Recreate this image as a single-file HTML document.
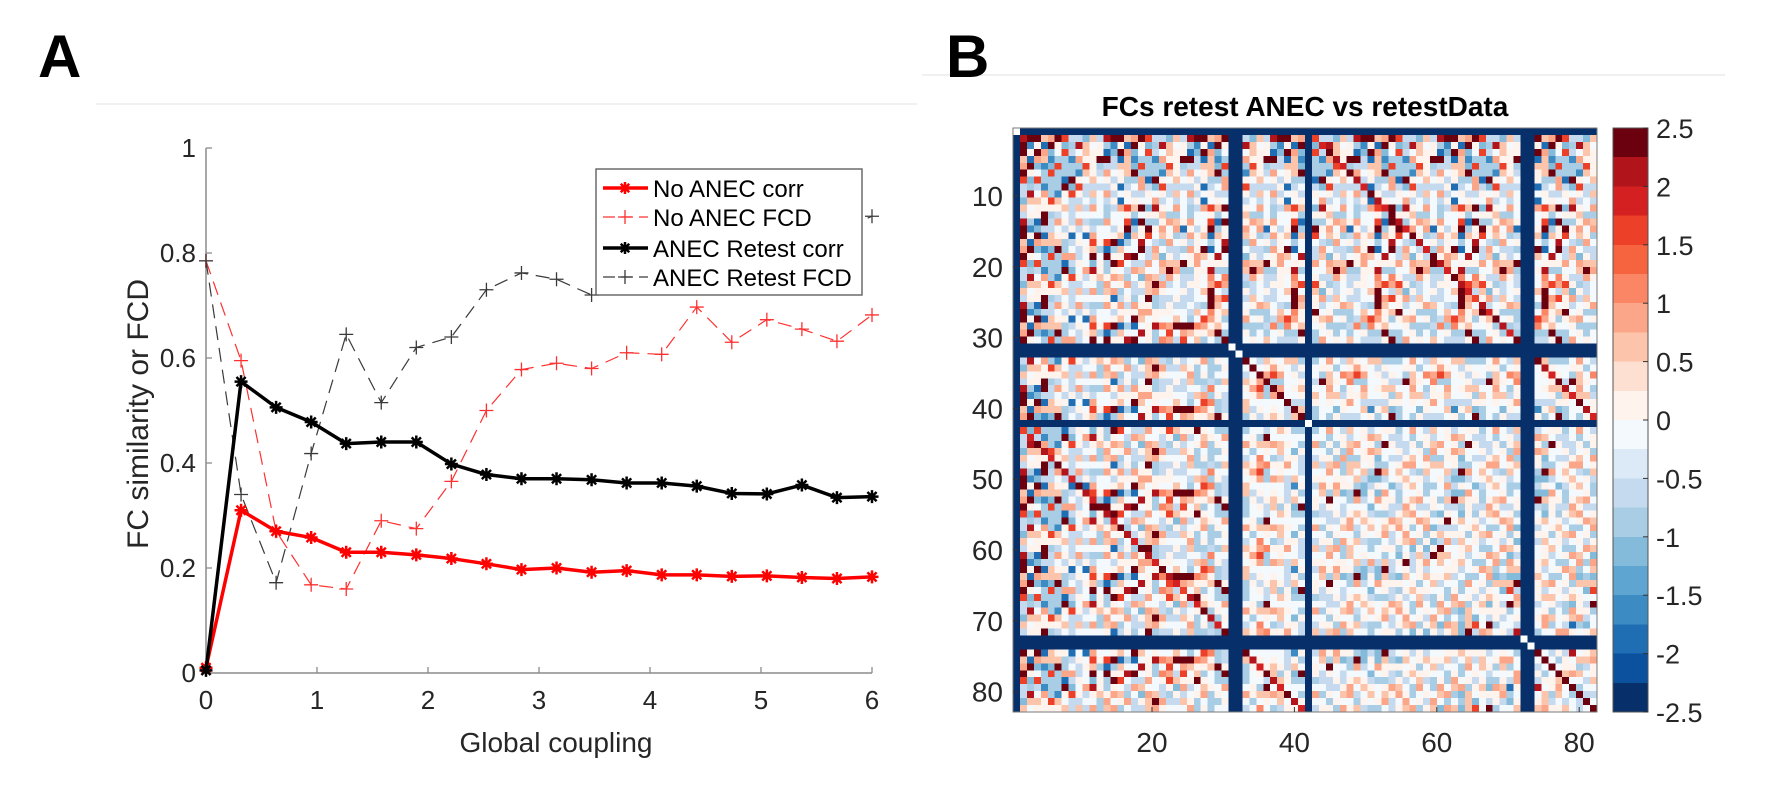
<!DOCTYPE html>
<html><head><meta charset="utf-8">
<style>
html,body{margin:0;padding:0;background:#fff;}
svg{display:block;font-family:"Liberation Sans",sans-serif;}
</style></head>
<body>
<svg id="fig" width="1780" height="812" viewBox="0 0 1780 812" xmlns="http://www.w3.org/2000/svg">
  <line x1="96" y1="104" x2="917" y2="104" stroke="#ececec" stroke-width="1.5"/>
  <line x1="922" y1="75" x2="1725" y2="75" stroke="#ececec" stroke-width="1.5"/>
  <text x="38" y="77" font-size="60" font-weight="bold">A</text>
  <text x="946" y="77" font-size="60" font-weight="bold">B</text>
  <g id="lineChart"></g>
  <g id="heatmap"></g>
</svg>
<script>
// ---------- Panel A data ----------
const couplingX = [0,0.3158,0.6316,0.9474,1.2632,1.5789,1.8947,2.2105,2.5263,2.8421,3.1579,3.4737,3.7895,4.1053,4.4211,4.7368,5.0526,5.3684,5.6842,6];
const noAnecCorr = [0.01,0.31,0.27,0.258,0.23,0.23,0.225,0.218,0.208,0.197,0.2,0.192,0.195,0.187,0.187,0.184,0.185,0.182,0.18,0.183];
const noAnecFCD = [0.785,0.595,0.27,0.168,0.16,0.29,0.275,0.365,0.5,0.578,0.59,0.58,0.61,0.607,0.697,0.63,0.673,0.655,0.632,0.682];
const retestCorr = [0.005,0.555,0.506,0.478,0.437,0.44,0.44,0.398,0.378,0.37,0.37,0.368,0.362,0.362,0.356,0.342,0.341,0.358,0.334,0.336];
const retestFCD = [0.785,0.34,0.172,0.418,0.645,0.515,0.62,0.64,0.73,0.762,0.75,0.72,0.76,0.79,0.8,0.82,0.81,0.83,0.84,0.87];
const xTicks = [0,1,2,3,4,5,6];
const yTicks = [0,0.2,0.4,0.6,0.8,1];
const yTickLabels = ["0","0.2","0.4","0.6","0.8","1"];

// ---------- Panel B data ----------
const levelChars = "ABCDEFGHIJklmnopqrst"; // A=-2.375 ... t=+2.375
const missingNodes = [0,31,32,42,73,74];
const homotopicOffset = 42;
const matrixRows = [
"JkGHnJqmEIHkrlJoIFmkHtJnGIlqJHEkmrkIoJlHkFJnkrmHGkoJlEJIHkmGJrkJlIHFkmIoJkHlqIkrJmkI",
"kJnIFoHJlkqJGkEmJtkIJnlHrJoIGkJlHqkEIkmJHGkIlrkHIFmkoIlkHGkIrmlkEJIkqlkIHGkmJIoHlrkI",
"IkEmtHkrIlnGJHqIkJlmFJrHonJkIlJGkmEtIkJHlrGIkmHFkIlrkHIGmkolIkHEkmIJlqHIGkJmlIrJHEk",
"HlkGIoqJHkmIrlkrEHIkoJlGkFmnIkrHlkEIkmHJroIlGkHIFmkJIlqHJkoJmlkEJIkGlkrHJkmGIkHlEkI",
"kIGlHkrnqIkEtHlkJImrJHolkGIHkmJlIEJHmrJIlHkGIkmFHlkJIrHJmlkGIHkJlmoIFHkJlIkmEHkJIlk",
"JoIkGHlnkrIrmJkHElofJqIJHkmlGIknHJrIlmEkHIJlrmJIHkGlIkmJHoJlIkFmHkJIlrJHmIkGlkHJIEk",
"IkqJlHkEnoIkrHmtkJIlGkJoImkrlHkIJmEJHlIkJmoHJIlkGmIkHrlkJIkmHElIkJrHmJIlkGHkIJmlkFI",
"kHJlnIkJtHorkIlmGJkqIJlkHEnIkmJlHrJIlmkGHIkJlmEIkHJlIrmJHkJlIkGmHkoIlkEHmIkJlrHJIkG",
"JIkoHlJrmnIGqkHJlIktEHkmIlrkHonIJkGlmHkJIlrJmEIkJlkJIHkmGIkJlIHoJkmIEkHlrIkJmkIHGkl",
"lkJHqIkrloHkGImnkJHtlIkEmHkJIloJrHmIGkqlJIkHEmlkJIHrJlmkIGHkJlIkmEHkJIlrJHmIkJlkFJI",
"IJmkHlrqkIoJHknlJGktHJlImkEoHkJIlmrJHIkGlmJIkHJlIkmEHkrlIkJmHkGIlkJHmIokJlkHFIkJlmk",
"kHlrIqnkJHoIkmGlkHtJIlkqJHmIrJlnHJkIlmEkHIJlkmrIHkGlIkmJHkJlIoJmHFJIlkJHmIkrlkHJIkG",
"JkIoHrlmkqIJtHklJInmkGHIlokJqHIkmrlkJHIkmGlHkJIkmHJlkEIkHJmlrJIHkJlmkIGHkJlIkmJHrJI",
"IlkrHnqJkoIHkJmtlJkIHqlrkmIoJHkGlnIkJmHkEIlkJHmIkJrkHJIkGlmkJIHkJlmoIJHkJlEkmJHkJrk",
"kJHlIonrkqHImJktlHJIkmnrlqIkJHoIkGlmHkJIlkEmHIkJlkrIHkmJIkJlIGJkmIJkHlrIkJmkIHFklJk",
"JIlkHqJmnkoIrHtlkJIqmkHrlnIkJoHkEIlmkJHIkJlmrIkHJlGkmJHkJlIkrmHkJIlkJHmIkEkHJIkJlmr",
"HkrloIqkJnHmIJtklHroIkqmJlnHkrIkJlmGkJIlkJmHIkrlkJIHkmJIkElIHJkmIrkHlJIkJmkIHGklJkI",
"kIJqlHonkrmIHtJkIlqJHnkmorIlHkJIkmEHlIkJmkrJIlkGmIkHJlkrIkmHJlIkJkHmJIlkrHkIJmlEJIk",
"JlHkIqnorkmIJtHlkqrIonkJmHlIkrHkmGlIkJHmkEIlHkJIkmrHlkJIkHJmlkGIHkJlmkIJHrJlIkmJHkJ",
"IkJoHlqnkrImtJHkloIrqkmHJnlIkJoHkJIlmrJHIkJlmGIkHJlIkmJHkrlIkJmEkJIlkJHmIrJlkHJIkJl",
"kHlJqoInkJmHtIrklqHJonrkmJlHkJIkJlmHkGIlkJmHIkrlkJIHkmJIkJlIHJkmIrkHlJEkJmkIHJklJkI",
"JIqklHonrkmItHJlkIqoJnkHmrlIkJHkmJlIkGHmkJIlHkrIkmJHlkJIkHJmlkEIHkJlmkIrHkJlIkmJHkJ",
"lkHJoqInkrmtHIJlkoqJInrHmlJIkJHoIkGlmHkJIlkrmHIkJlkJIHkmEIkJlIHJkmIrkHlJIkJmkIHJklJ",
"JoIkqHlnJkmItrHkloqIJnkHmJlIkrHkmJlIkJHmkGIlHkJIkmrHlkJIkHJmlkJIHrJlmkIJEkJlIkmJHkJ",
"IkJlqoHnkJmtIJHlrqoJInkmHJlIkJoHrJIlmkJHIkJlmJIkHGlIkmJHkJlIrJmHkJIlkEHmIkJlkHJIkJl",
"kqJHoIlnkJtmHIJkloqrIHnkmJlIkJHkmJlrkJHmkJIlHkJIGmJHlkJIkHJmlkrIHkJlmkIJHkJlIEmJHkJ",
"tJIkqHonlrkmtIHJlkoqJInHkmrlIkJoHkJIlmkJHIkrlmJIkHJlIkmGHkJlIkJmHrJIlkJHmIkJlkHJIEJ",
"JkoqIHlntJkmIHJqlkoJIntkHmJlIrJHkmJlIkJHmkJIlHkJIkmrHlkJIkHJmlkJIHkJlGkIJHkrlIkmJHk",
"IlJkqoHnkJtmIJHlkqoJInkmHJlIkJoHkrIlmkJHIkJlmJIkHJlIkmJHkJlIkJmHkGIlkJHmIkJlrHJIkJl",
"kJtHoqIlnkJmIHJtlkoqJInkHmJlIkJHkmJlIkrHmkJIlHkJIkmJHlkGIkHJmlkJIHkJlmkIJHkJlIkmJHk",
"JIkoqHlnkJtmIJHlkqoJInkmHJlIkJoHkJIlmkJHIkJlmJIkrJlIkmJHkJlIkJmHkJIlkJHmIkJlkHJIkJl",
"JkIHlkmJIlkHJmIkJlHmkJIlHkmJqtkJlIkHJmkIJlHkJmIkqJlkHIJmkJlIkHJmqkJIlHkJmIktJlkHqtk",
"IJlkHmJkIlHJkmIlJkHmIkJlHkmJItqkIJlHkmJIlkHJmkIlqJHkIJmlkJIHkJlmkIJHkJlIkmJHktJIqtl",
"kJlIHkmJIlkHJkIlmJkHIlkJmIkHlJkqIJsklHJIkmJlHkJIkmHJlkJIkHJmlkJIHkJlmkIJHkJlIkmJsqk",
"JIlkHmJkIlnJHkIJlmkJHIlkJmIkHlJqkJItlHkJIlmkJHIkJlmJIkHJlIkmJHkJlIkJmHkJIlkJHmItqkJ",
"lkJHIkmJlIkHJlnkJIlHkmJlIkJHoIkqJlsmHkJIlkJmHIkJlkJIHkmJIkJlIHJkmIJkHlJIkJmkIHtsqkI",
"IkJlHmkJIlkJHmnlkJIHklmJnoqJlIkHJqkJslHkIJlmkJHIkJlmJIkHJlIkmJHkJlIkJmHkJIlkJHkqtkJ",
"JlkHJImkJlIkHJnlkJImHkqtolJkHIlJkmJlqIkJHmkJIlHkJIkmJHlkJIkHJmlkJIHkJlmkIJHkJIkmqtl",
"kIJHlkmJIlkHJmIklJnHkJlIkmJHIlkJqmJlIkJsHkJIlmkJHIkJlmJIkHJlIkmJHkJlIkJmHkJIlkJlIkt",
"HJlkIJmkHlJIkmJlkHIJnlkJmIkHJlIkJmHkJIqkJtlkJHmIkJlkHJIkJlmkJIHkJlmkIJHkJlIkmJHkJIk",
"kHGJlIFkJmGHIkEJlFHkImGJkHlIFkJmGIHkJlFIkGtJHmIFkJlGHkIJmFkGIlHJkFImGkJlHIkFJmGkIlH",
"JkIGHlkmIlHJkmGlJkHmIkJlHkmJItqkIJlHkmJIlkHJmkIlqJHkIJmlkJIHkJlmkIJHkJlIkmJHktJIqtl",
"JkIGHlkmIlHJkmGlJkHmIkJlHkmJItqkIJlHkmJIlkHJmkIlqJHkIJmlkJIHkJlmkIJHkJlIkmJHktJIqtl",
"tJIkHlGJkIHlkJmIGJkHlIJkmHIGJlkJIHkmJlIkJHkmJlIkJHmkJIlHkJIkmJHlkJIkHJmlkJIHkJlmkIJH",
"IkrJHGIkJlmHkIJGHkIlJmHkIJlHkGIJkmJlIkJHmkJIlHkJIkmJHlkJIkHJmlkJIHkJlmkIJHkJlIkmJHkJ",
"JHtkIGHJlkmIHGJkIlHJmkGIJlHkJIkmJlIkJHmkJIlHkJIkmJHlkJIkHJmlkJIHkJlmkIJHkJlIkmJHkJIk",
"kIJHrJGkIHlmJkGIHJlkmIGHJkIlmJkHIJlkmJIHkJlIkmJHkJlIkJmHkJIlkJHmIkJlkHJIkJlmkJIHkJlm",
"IGJkHtIkJGlHmkJIGHlkJmIkGHJlIkJmHkJIlkJmHIkJlkJIHkmJIkJlIHJkmIJkHlJIkJmkIHJklJkIJHlk",
"JkIGHJrkIlGHJmkIHGJlkmJIHkGlJkIHmJlIkJHmkJIlHkJIkmJHlkJIkHJmlkJIHkJlmkIJHkJlIkmJHkJI",
"HIkJGHktIJlGHkmJIGHlkJmIkHGJlIkJmHkJIlkJmHIkJlkJIHkmJIkJlIHJkmIJkHlJIkJmkIHJklJkIJHl",
"kJHGIkJlrHGIJkmlHIGJkHmlJIkHGJlkJIHkmJlIkJHmkJIlHkJIkmJHlkJIkHJmlkJIHkJlmkIJHkJlIkmJ",
"IHGkJlIkJtGHIkJmlGHIJkHmlJIGkJHlkJIHkmJlIkJHmkJIlHkJIkmJHlkJIkHJmlkJIHkJlmkIJHkJlIkm",
"JkIHGlkJIGrHkJmIGlHkJIHmkGJIlkJHIkmJlHkJIkmHJlkJIkHJmlkJIHkJlmkIJHkJlIkmJHkJIlkJHmIk",
"GHkJIlGkJIHltkGJmIHlkJGImHkJlIkJHkmJlIkJHmkJIlHkJIkmJHlkJIkHJmlkJIHkJlmkIJHkJlIkmJHk",
"kJGIHkJlIGHkrJmIGHlkJIHmGkJlIkJHkmJlIkJHmkJIlHkJIkmJHlkJIkHJmlkJIHkJlmkIJHkJlIkmJHkJ",
"IkHJGlkJIHGkJtmIHGJlkIHmkGJlIkJHkmJlIkJHmkJIlHkJIkmJHlkJIkHJmlkJIHkJlmkIJHkJlIkmJHkJ",
"JGIkHlJkGIHlkJrmIGHJlkImHGkJlIkJHkmJlIkJHmkJIlHkJIkmJHlkJIkHJmlkJIHkJlmkIJHkJlIkmJHk",
"HkJGIlkJHGIkmJlrHIGkJlmHIGJklIkJHkmJlIkJHmkJIlHkJIkmJHlkJIkHJmlkJIHkJlmkIJHkJlIkmJHk",
"kIGJHlkIGJHkmlJItGHIkJlmHGIkJlIkJHkmJlIkJHmkJIlHkJIkmJHlkJIkHJmlkJIHkJlmkIJHkJlIkmJH",
"JHkGIJlkHGIJmkJlIrGHkJlmIHGkJlIkJHkmJlIkJHmkJIlHkJIkmJHlkJIkHJmlkJIHkJlmkIJHkJlIkmJH",
"IGkJHlIkGJHmkIJlHkJtGIHkmlJGkJlIkJHkmJlIkJHmkJIlHkJIkmJHlkJIkHJmlkJIHkJlmkIJHkJlIkmJ",
"kJHGIlkJGHImkJlIHGkJrtlHmIGkJlIkJHkmJlIkJHmkJIlHkJIkmJHlkJIkHJmlkJIHkJlmkIJHkJlIkmJH",
"JGIkHlJkIGHmkJlIGHkJIltrmHGkJlIkJHkmJlIkJHmkJIlHkJIkmJHlkJIkHJmlkJIHkJlmkIJHkJlIkmJH",
"HkJIGlkJHIGmkJlHIGkJIlmHtGkJlIkJHkmJlIkJHmkJIlHkJIkmJHlkJIkHJmlkJIHkJlmkIJHkJlIkmJHk",
"kIJGHlkIJGHmkJlIHGkJlImHGtkJlIkJHkmJlIkJHmkJIlHkJIkmJHlkJIkHJmlkJIHkJlmkIJHkJlIkmJHk",
"JHGIkJlHGIkmJlIkHGJklmIHGkttJlIkJHkmJlIkJHmkJIlHkJIkmJHlkJIkHJmlkJIHkJlmkIJHkJlIkmJH",
"IGkJHlIGkJHmlJkIGHkJlmoonnrtJlIkJHkmJlIkJHmkJIlHkJIkmJHlkJIkHJmlkJIHkJlmkIJHkJlIkmJH",
"qqHJGlkIGJHmkJlIHGkJlmonkmJtkIJHkmJlIkJHmkJIlHkJIkmJHlkJIkHJmlkJIHkJlmkIJHkJlIkmJHkJ",
"JHGIkJlHGIkmJlIkHGJklmIHGkJlItkJHkmJlIkJHmkJIlHkJIkmJHlkJIkHJmlkJIHkJlmkIJHkJlIkmJHk",
"kIGJHlkIGJHmkJlIHGkJlImHGkJlIktJHkmJlIkJHmkJIlHkJIkmJHlkJIkHJmlkJIHkJlmkIJHkJlIkmJHk",
"JkIGHlJkIGHmkJlIGHkJlmIHGkJlIkJrHkmJlIkJHmkJIlHkJIkmJHlkJIkHJmlkJIHkJlmkIJHkJlIkmJHk",
"IkGJlHkFmJIlGkHJmEkIlJGkHmJIlFkGJHmlkIJGkHlmJIkFGJlHkIJmGkHIlJkFmGJIlkHJGmIkrJlkHGIk",
"kJlIHkmJIlkHJmIkJlHmkJIlHkmJqtkJlIkHJmkIJlHkJmIkqJlkHIJmkJlIkHJmqkJIlHkJmIktJlkHqtk",
"JlIkHmJkIlHJkmIlJkHmIkJlHkmJItqkIJlHkmJIlkHJmkIlqJHkIJmlkJIHkJlmkIJHkJlIkmJHktJIqtl",
"IkJlHmkJIlHkJmlIkJHmkJIlHkJmtqkJIlHkJmkIJlHkqJIkmHJlkJIkHJmlkJIHkJlmkIJHkJlIkmJHtkq",
"kJlIHkmJIlkHJmIkJlHmkJIlHkJmkqtJIlHkJmIkJlHkJmIqkJlkHIJmkJlIkHJmkqJIlHkJmIktJlkqHtk",
"JIlkHmJkIlHJkmIlJkHmIkJlHkJmIkqtJlHkmJIlkHJmkIlJHqkIJmlkJIHkJlmkIJHkJlIkmJqkJItlkqJ",
"lkJHIkmJlIkHJmlkJIHkmJlIkJHmkJqlItHkJIlmkJHIkJlmJIkqHJlIkmJHkJlIkJmHkJIlqkJHmtkJlkq",
"IkJlHmkJIlkJHmlkJIHkmJlIkJHmkJIlkqtJIlmkJHIkJlmJIkHqJlIkmJHkJlIkJmHkJIlkJHqmIkJtlkq",
"JlkHJImkJlIkHJmlkJIHkmJlIkJHmkJIlkJqtIlmkJHIkJlmJIkHJqlIkmJHkJlIkJmHkJIlkJHmIkqJlkt",
"kIJHlkmJIlkHJmIklJIHkmJlIkJHmkJIlkJHqtlmkJHIkJlmJIkHJlqIkmJHkJlIkJmHkJIlkJHmIkJqlkt",
"HJlkIJmkHlJIkmJlkHIJmlkJmIkHJlIkJmHkJqtkJlkJHmIkJlkHJIkqJlmkJIHkJlmkIJHkJlIkmJHkJIt"
];
const cbarTicks = [2.5,2,1.5,1,0.5,0,-0.5,-1,-1.5,-2,-2.5];
const cbarLabels = ["2.5","2","1.5","1","0.5","0","-0.5","-1","-1.5","-2","-2.5"];
const matTicks = [10,20,30,40,50,60,70,80];
const matXTicks = [20,40,60,80];

const NS = "http://www.w3.org/2000/svg";
function mk(tag, attrs, parent){
  const e = document.createElementNS(NS, tag);
  for (const k in attrs) e.setAttribute(k, attrs[k]);
  parent.appendChild(e);
  return e;
}

// ---------- Panel A ----------
(function(){
  const g = document.getElementById('lineChart');
  const X0 = 206, X1 = 872, Y0 = 673, Y1 = 148;
  const sx = v => X0 + (v - 0) / 6 * (X1 - X0);
  const sy = v => Y0 - v * (Y0 - Y1);
  const ax = mk('g', {}, g);
  
  
  const yl = mk('line', {x1:X0, y1:Y1, x2:X0, y2:Y0, stroke:'#8c8c8c', 'stroke-width':1.5}, ax);
  
  
  const xl = mk('line', {x1:X0, y1:Y0, x2:X1, y2:Y0, stroke:'#8c8c8c', 'stroke-width':1.5}, ax);
  
  
  xTicks.forEach(t => {
    const x = sx(t);
    mk('line', {x1:x, y1:Y0, x2:x, y2:Y0-6, stroke:'#8c8c8c', 'stroke-width':1.3}, ax);
    const tx = mk('text', {x:x, y:709, 'font-size':26, fill:'#262626', 'text-anchor':'middle'}, ax);
    tx.textContent = String(t);
    
    
  });
  yTicks.forEach((t, i) => {
    const y = sy(t);
    mk('line', {x1:X0, y1:y, x2:X0+6, y2:y, stroke:'#8c8c8c', 'stroke-width':1.3}, ax);
    const tx = mk('text', {x:196, y:y+9, 'font-size':26, fill:'#262626', 'text-anchor':'end'}, ax);
    tx.textContent = yTickLabels[i];
    
    
  });
  const yt = mk('text', {x:0, y:0, 'font-size':30, fill:'#262626', 'text-anchor':'middle', transform:'translate(148,414) rotate(-90)'}, ax);
  yt.textContent = 'FC similarity or FCD';
  
  
  const xt = mk('text', {x:556, y:752, 'font-size':28, fill:'#262626', 'text-anchor':'middle'}, ax);
  xt.textContent = 'Global coupling';
  
  

  function star(parent, x, y, color, r){
    let d = '';
    for (let k = 0; k < 4; k++){
      const a = k * Math.PI / 4;
      d += 'M' + (x - r*Math.cos(a)) + ' ' + (y - r*Math.sin(a)) + 'L' + (x + r*Math.cos(a)) + ' ' + (y + r*Math.sin(a));
    }
    mk('path', {d:d, stroke:color, 'stroke-width':2.5, fill:'none'}, parent);
  }
  function plus(parent, x, y, color, r){
    mk('path', {d:'M'+(x-r)+' '+y+'L'+(x+r)+' '+y+'M'+x+' '+(y-r)+'L'+x+' '+(y+r), stroke:color, 'stroke-width':1.3, fill:'none'}, parent);
  }
  function series(vals, color, width, dash, marker, name){
    const s = mk('g', {}, g);
    
    
    const pts = vals.map((v, i) => sx(couplingX[i]) + ',' + sy(v)).join(' ');
    const attrs = {points:pts, fill:'none', stroke:color, 'stroke-width':width, 'stroke-linejoin':'round'};
    if (dash) attrs['stroke-dasharray'] = dash;
    mk('polyline', attrs, s);
    vals.forEach((v, i) => marker(s, sx(couplingX[i]), sy(v), color, marker === star ? 6.5 : 7));
  }
  series(noAnecFCD, '#ff3030', 1.2, '14,8', plus, 'series-no-anec-fcd');
  series(retestFCD, '#3a3a3a', 1.2, '14,8', plus, 'series-anec-retest-fcd');
  series(noAnecCorr, '#ff0000', 3.5, null, star, 'series-no-anec-corr');
  series(retestCorr, '#000000', 3.5, null, star, 'series-anec-retest-corr');

  const lg = mk('g', {}, g);
  
  
  mk('rect', {x:596, y:169, width:266, height:126, fill:'#fff', stroke:'#555', 'stroke-width':1.3}, lg);
  const entries = [
    ['No ANEC corr', '#ff0000', 3.5, null, star],
    ['No ANEC FCD', '#ff3030', 1.2, '14,8', plus],
    ['ANEC Retest corr', '#000000', 3.5, null, star],
    ['ANEC Retest FCD', '#3a3a3a', 1.2, '14,8', plus]
  ];
  const rowY = [188, 217, 248, 277];
  entries.forEach((e, i) => {
    const eg = mk('g', {}, lg);
    
    
    const la = {x1:603, y1:rowY[i], x2:648, y2:rowY[i], stroke:e[1], 'stroke-width':e[2]};
    if (e[3]) la['stroke-dasharray'] = '12,6';
    mk('line', la, eg);
    e[4](eg, 625, rowY[i], e[1], e[4] === star ? 6 : 7);
    const t = mk('text', {x:653, y:rowY[i]+9, 'font-size':24, fill:'#000'}, eg);
    t.textContent = e[0];
  });
})();

// ---------- Panel B ----------
(function(){
  const g = document.getElementById('heatmap');
  const N = 84, L = 1013, T = 128, S = 584 / 84;
  const reds = ['#fff3ee','#fde0d2','#fcc5ab','#fca689','#fb8665','#f6633f','#ec4029','#d42020','#b1141b','#6b000f'];
  const blues = ['#f4f9fe','#dce9f6','#c5daef','#a8cde4','#84bbdb','#5ea5d2','#3c8bc3','#1f6db2','#0b519d','#07306b'];
  const displayGain = 1.35;
  function colorOf(v){
    const idx = Math.min(9, Math.floor(Math.abs(v) / 0.25));
    return v >= 0 ? reds[idx] : blues[idx];
  }
  function valueAt(i, j){
    const a = Math.min(i, j), b = Math.max(i, j);
    const row = (matrixRows[a] || '') + 'J'.repeat(N);
    const c = levelChars.indexOf(row[(b * 7 + a * 3) % N]);
    return (c < 0 ? 9 : c) * 0.25 - 2.375;
  }
  const cells = mk('g', {'shape-rendering':'crispEdges'}, g);
  
  
  for (let i = 0; i < N; i++){
    for (let j = 0; j < N; j++){
      let v = valueAt(i, j) * displayGain;
      const miss = missingNodes.includes(i) || missingNodes.includes(j);
      if (i === j) v = miss ? 0.01 : ((i < 31 || (i > 42 && i < 73)) ? v : 2.4);
      else if (miss) v = -2.49;
      if (!miss && Math.abs(i - j) === homotopicOffset && v < 1.5) v = 2.4 - (i % 3) * 0.3;
      mk('rect', {x:(L + j*S).toFixed(2), y:(T + i*S).toFixed(2), width:(S+0.4).toFixed(2), height:(S+0.4).toFixed(2), fill: (i===j && miss) ? '#ffffff' : colorOf(v)}, cells);
    }
  }
  const frame = mk('rect', {x:L, y:T, width:584, height:584, fill:'none', stroke:'#7a7a7a', 'stroke-width':1}, g);
  
  
  matTicks.forEach(t => {
    const y = 196 + (t - 10) * 7.08;
    mk('line', {x1:L, y1:y, x2:L+5, y2:y, stroke:'#333', 'stroke-width':1}, g);
    const tx = mk('text', {x:1003, y:y+10, 'font-size':28, fill:'#262626', 'text-anchor':'end'}, g);
    tx.textContent = String(t);
    
    
  });
  matXTicks.forEach(t => {
    const x = 1152 + (t - 20) * 7.12;
    mk('line', {x1:x, y1:T+584, x2:x, y2:T+579, stroke:'#333', 'stroke-width':1}, g);
    const tx = mk('text', {x:x, y:752, 'font-size':28, fill:'#262626', 'text-anchor':'middle'}, g);
    tx.textContent = String(t);
    
    
  });
  const title = mk('text', {x:1305, y:116, 'font-size':28, 'font-weight':'bold', fill:'#000', 'text-anchor':'middle'}, g);
  title.textContent = 'FCs retest ANEC vs retestData';
  
  

  const cb = mk('g', {}, g);
  
  
  const CX = 1613, CW = 35, CT = 128, CH = 584;
  const cy = v => CT + (2.5 - v) / 5 * CH;
  for (let k = 0; k < 20; k++){
    const hi = 2.5 - k * 0.25, mid = hi - 0.125;
    mk('rect', {x:CX, y:cy(hi), width:CW, height:CH/20 + 0.5, fill:colorOf(mid), 'shape-rendering':'crispEdges'}, cb);
  }
  mk('rect', {x:CX, y:CT, width:CW, height:CH, fill:'none', stroke:'#555', 'stroke-width':1}, cb);
  cbarTicks.forEach((t, i) => {
    const y = cy(t);
    mk('line', {x1:CX+CW-5, y1:y, x2:CX+CW, y2:y, stroke:'#333', 'stroke-width':1}, cb);
    const tx = mk('text', {x:1656, y:y+10, 'font-size':27, fill:'#262626'}, cb);
    tx.textContent = cbarLabels[i];
    
    
  });
})();
</script>
</body></html>
